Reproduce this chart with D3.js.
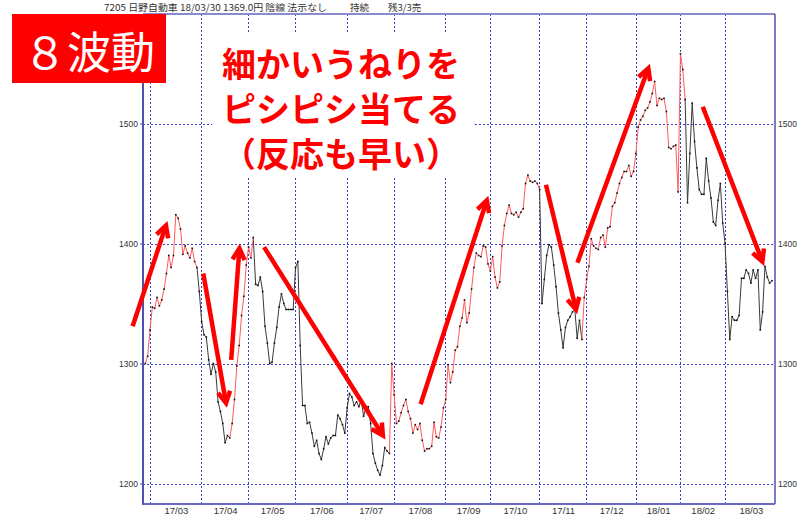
<!DOCTYPE html>
<html><head><meta charset="utf-8">
<script src="https://cdn.jsdelivr.net/npm/d3@7"></script>
<style>body{margin:0;background:#fff}svg{display:block}</style>
</head><body><svg id="c" width="800" height="516"></svg>
<script>
// ---- data (daily closes, Hino Motors 7205, late Feb 2017 - 30 Mar 2018) ----
const closes = [
1300,1306,1328,1347,1346,1355,1348,1353,1362,1375,1390,1380,1390,1424,1421,1412,1391,1398,1392,1388,
1396,1385,1380,1360,1335,1324,1322,1303,1291,1300,1293,1268,1260,1250,1234,1240,1238,1250,1270,1298,
1315,1340,1356,1382,1397,1388,1405,1366,1365,1372,1360,1331,1317,1300,1301,1317,1330,1347,1358,1350,
1345,1345,1345,1345,1380,1385,1315,1265,1265,1250,1251,1242,1231,1236,1225,1220,1229,1239,1233,1238,
1240,1240,1257,1254,1249,1242,1263,1275,1272,1265,1268,1264,1270,1256,1263,1264,1250,1225,1217,1211,
1207,1215,1230,1227,1225,1300,1274,1250,1252,1259,1265,1270,1260,1254,1242,1249,1245,1250,1236,1227,
1229,1229,1231,1251,1239,1238,1247,1263,1270,1299,1284,1293,1311,1314,1331,1338,1353,1334,1342,1362,
1380,1392,1390,1389,1398,1397,1383,1377,1389,1372,1363,1368,1398,1415,1425,1432,1425,1424,1426,1422,
1426,1429,1450,1457,1452,1451,1452,1450,1445,1350,1370,1390,1399,1397,1382,1364,1342,1328,1313,1330,
1336,1339,1343,1345,1321,1336,1320,1355,1370,1381,1404,1398,1396,1395,1405,1407,1397,1413,1414,1431,
1434,1442,1450,1455,1460,1460,1465,1456,1460,1475,1497,1503,1506,1511,1513,1518,1525,1535,1515,1521,
1520,1521,1510,1480,1479,1481,1482,1443,1558,1545,1520,1434,1475,1517,1485,1463,1445,1441,1441,1471,
1452,1438,1418,1415,1436,1450,1417,1400,1360,1320,1339,1336,1336,1340,1371,1371,1378,1375,1367,1378,
1371,1378,1328,1343,1381,1372,1367,1369
];
const monthStartIdx = [2,24,44,64,86,106,128,147,168,188,209,228,247];
const monthLabels = ["17/03","17/04","17/05","17/06","17/07","17/08","17/09","17/10","17/11","17/12","18/01","18/02","18/03"];
const yTicks = [1200,1300,1400,1500];
const upRuns = [[0,22],[36,46],[104,168],[186,230]];
const downRuns = [[22,36],[46,104],[168,186],[230,267]];
// arrows: [fromIdx, fromPrice, toIdx, toPrice]
const arrows = [
  [-5.4,1331, 8.8,1415],
  [24.7,1375, 34.4,1267],
  [36.6,1303, 40.1,1396],
  [50.6,1397, 101.2,1240],
  [117.3,1266, 145.5,1436],
  [170.7,1449, 183.5,1345],
  [184.1,1384, 214.3,1546],
  [237.5,1514, 262.9,1385]
];
const headerMain = "7205 日野自動車 18/03/30 1369.0円 陰線 法示なし";
const headerHold = "持続";
const headerRest = "残3/3売";
const badgeText = "８波動";
const noteLines = ["細かいうねりを","ピシピシ当てる","（反応も早い）"];

// ---- drawing ----
const svg = d3.select("#c");
svg.append("rect").attr("width",800).attr("height",516).attr("fill","#fff");
const P = {left:143,right:775,top:14,bottom:504};
const x = d3.scaleLinear().domain([0, closes.length-1]).range([145.3, 772]);
const y = d3.scaleLinear().domain([1200,1500]).range([483.5,123.5]);
const gridColor = "#3a3ac0";

// grid
const g = svg.append("g");
g.selectAll("line.h").data(yTicks).join("line")
  .attr("x1",P.left).attr("x2",P.right)
  .attr("y1",d=>Math.round(y(d))+0.5).attr("y2",d=>Math.round(y(d))+0.5)
  .attr("stroke",gridColor).attr("stroke-width",1).attr("stroke-dasharray","2,2");
g.selectAll("line.v").data(monthStartIdx).join("line")
  .attr("x1",d=>Math.round(x(d)-0.3)+0.5).attr("x2",d=>Math.round(x(d)-0.3)+0.5)
  .attr("y1",P.top).attr("y2",P.bottom)
  .attr("stroke",gridColor).attr("stroke-width",1).attr("stroke-dasharray","2,2");

// white panel behind the note
svg.append("rect").attr("x",212).attr("y",33).attr("width",261).attr("height",145).attr("fill","#fff");

// axes
const fmt = d3.format("d");
const yl = d3.axisLeft(y).tickValues(yTicks).tickFormat(fmt).tickSize(3).tickPadding(2);
const yr = d3.axisRight(y).tickValues(yTicks).tickFormat(fmt).tickSize(0).tickPadding(3);
const ax1 = svg.append("g").attr("transform",`translate(${P.left},0)`).call(yl);
const ax2 = svg.append("g").attr("transform",`translate(${P.right},0)`).call(yr);
[ax1,ax2].forEach(a=>{
  a.select(".domain").remove();
  a.selectAll("line").attr("stroke","#5555aa");
  a.selectAll("text").attr("font-family","'Liberation Sans', Arial, sans-serif").attr("font-size",8.5).attr("fill","#333");
});
const bounds = monthStartIdx.concat([closes.length+1]);
const mids = monthStartIdx.map((d,i)=>(d+bounds[i+1])/2);
const xb = d3.axisBottom(x).tickValues(mids).tickFormat((d,i)=>monthLabels[i]).tickSize(0).tickPadding(3);
const ax3 = svg.append("g").attr("transform",`translate(0,${P.bottom})`).call(xb);
ax3.select(".domain").remove();
ax3.selectAll("text").attr("font-family","'Liberation Sans', Arial, sans-serif").attr("font-size",9.5).attr("fill","#333");

// frame
svg.append("line").attr("x1",P.left).attr("x2",P.right).attr("y1",P.top).attr("y2",P.top).attr("stroke","#8a8ad0").attr("stroke-width",2);
svg.append("line").attr("x1",P.right).attr("x2",P.right).attr("y1",P.top).attr("y2",P.bottom).attr("stroke","#5050b0").attr("stroke-width",1.5);
svg.append("line").attr("x1",P.left).attr("x2",P.left).attr("y1",P.top).attr("y2",P.bottom+1).attr("stroke","#5050b0").attr("stroke-width",2);
svg.append("line").attr("x1",P.left).attr("x2",P.right).attr("y1",P.bottom).attr("y2",P.bottom).attr("stroke","#6a6ac4").attr("stroke-width",2);

// price line
const line = d3.line().x(d=>x(d.i)).y(d=>y(d.v));
const pts = closes.map((v,i)=>({i,v}));
const lg = svg.append("g").attr("fill","none");
downRuns.forEach(([a,b])=>lg.append("path").attr("d",line(pts.slice(a,b+1))).attr("stroke","#3a3a3a").attr("stroke-width",1));
upRuns.forEach(([a,b])=>lg.append("path").attr("d",line(pts.slice(a,b+1))).attr("stroke","#ff5a5a").attr("stroke-width",1));
svg.append("g").selectAll("rect").data(pts).join("rect")
  .attr("x",d=>x(d.i)-0.8).attr("y",d=>y(d.v)-0.8).attr("width",1.6).attr("height",1.6).attr("fill","#111");

// arrows
const ag = svg.append("g").attr("fill","none").attr("stroke","#ff0000").attr("stroke-width",4.5);
arrows.forEach(([i0,v0,i1,v1])=>{
  const x0=x(i0),y0=y(v0),x1=x(i1),y1=y(v1);
  const dx=x1-x0, dy=y1-y0, L=Math.hypot(dx,dy), ux=dx/L, uy=dy/L;
  ag.append("line").attr("x1",x0).attr("y1",y0).attr("x2",x1-ux*2).attr("y2",y1-uy*2);
  const hl=13, ang=28*Math.PI/180;
  const bx=-ux, by=-uy;
  const w1=[x1+hl*(bx*Math.cos(ang)-by*Math.sin(ang)), y1+hl*(bx*Math.sin(ang)+by*Math.cos(ang))];
  const w2=[x1+hl*(bx*Math.cos(-ang)-by*Math.sin(-ang)), y1+hl*(bx*Math.sin(-ang)+by*Math.cos(-ang))];
  ag.append("path").attr("d",`M${w1[0]},${w1[1]}L${x1},${y1}L${w2[0]},${w2[1]}`).attr("stroke-linejoin","miter");
});

// header
const hf = "'Noto Sans CJK JP', sans-serif";
const hdr = svg.append("g").attr("font-family",hf).attr("font-size",9.5).attr("fill","#333");
hdr.append("text").attr("x",104).attr("y",10.5).attr("textLength",223).attr("lengthAdjust","spacingAndGlyphs").text(headerMain);
hdr.append("text").attr("x",350).attr("y",10.5).text(headerHold);
hdr.append("text").attr("x",388).attr("y",10.5).text(headerRest);

// badge
svg.append("rect").attr("x",12).attr("y",14).attr("width",154).attr("height",69).attr("fill","#ff0000");
svg.append("text").attr("x",23).attr("y",50).attr("dominant-baseline","central")
  .attr("textLength",132).attr("lengthAdjust","spacing")
  .attr("font-family",hf).attr("font-size",44).attr("fill","#fff").text(badgeText);

// note
svg.append("g").selectAll("text").data(noteLines).join("text")
  .attr("x",222).attr("y",(d,i)=>62+i*45).attr("dominant-baseline","central")
  .attr("font-family",hf).attr("font-weight",700).attr("font-size",34).attr("fill","#ff0000").text(d=>d);
</script></body></html>
